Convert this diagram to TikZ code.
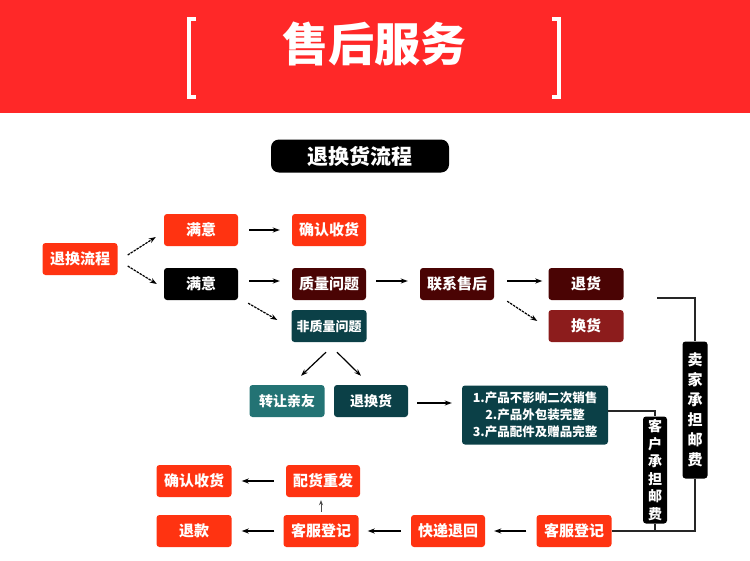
\documentclass[tikz,border=0pt]{standalone}
\usepackage{fontspec}
\usepackage{tikz}
\usetikzlibrary{arrows.meta, positioning, calc}
\newfontfamily\cjk{Noto Sans CJK SC}
\definecolor{headred}{HTML}{FF2828}
\definecolor{nodeorange}{HTML}{FF3311}
\definecolor{nodemaroon}{HTML}{4A0404}
\definecolor{nodebrick}{HTML}{8C1C1C}
\definecolor{nodeteal}{HTML}{0B4047}
\definecolor{nodelteal}{HTML}{237374}

\begin{document}
\begin{tikzpicture}[x=1pt, y=-1pt,
  box/.style={rectangle, rounded corners=3pt, minimum width=74pt,
              minimum height=32pt, inner sep=0pt, text=white,
              font=\cjk\bfseries\fontsize{15}{17}\selectfont},
  vbox/.style={rectangle, rounded corners=3pt, fill=black, text=white,
               minimum width=25pt, inner sep=0pt, align=center},
  flow/.style={-{Stealth[length=7pt, width=5pt]}, line width=1.2pt},
  dflow/.style={flow, dash pattern=on 2.5pt off 1pt},
  link/.style={line width=1.1pt, color=black!85}
]
\useasboundingbox (0,0) rectangle (750,560);

% header
\fill[headred] (0,0) rectangle (750,113);
\draw[white, line width=3.5pt] (196,19) -- (189,19) -- (189,97) -- (196,97);
\draw[white, line width=3.5pt] (552,19) -- (559,19) -- (559,97) -- (552,97);
\node[text=white, font=\cjk\bfseries\fontsize{46}{46}\selectfont] (head) at (374,44) {售后服务};

% title
\node[fill=black, rounded corners=8pt, minimum width=178pt, minimum height=33pt,
      text=white, font=\cjk\bfseries\fontsize{21}{23}\selectfont] (title) at (360,156) {退换货流程};

% upper flow
\node[box, fill=nodeorange, minimum width=75pt] (tuihuan) at (80,259) {退换流程};
\node[box, fill=nodeorange] (my1) at (201,230) {满意};
\node[box, fill=nodeorange] (qr1) at (329,230) {确认收货};
\node[box, fill=black] (bmy) at (201,284) {满意};
\node[box, fill=nodemaroon] (zl) at (329,284) {质量问题};
\node[box, fill=nodemaroon] (lx) at (457,284) {联系售后};
\node[box, fill=nodemaroon, minimum width=75pt] (tuihuo) at (586,284) {退货};
\node[box, fill=nodebrick, minimum width=75pt] (huanhuo) at (586,326) {换货};
\node[box, fill=nodeteal, minimum width=75pt, font=\cjk\bfseries\fontsize{13}{15}\selectfont] (fzl) at (329,326) {非质量问题};
\node[box, fill=nodelteal, minimum width=75pt, font=\cjk\bfseries\fontsize{14}{16}\selectfont] (zr) at (287,401) {转让亲友};
\node[box, fill=nodeteal, font=\cjk\bfseries\fontsize{14}{16}\selectfont] (thh) at (371,401) {退换货};
\node[box, fill=nodeteal, minimum width=146pt, minimum height=59pt, align=center,
      font=\cjk\bfseries\fontsize{12.5}{17}\selectfont] (cond) at (535,415)
      {1.产品不影响二次销售\\2.产品外包装完整\\3.产品配件及赠品完整};

% postage boxes
\node[vbox, minimum height=137pt, font=\cjk\bfseries\fontsize{15}{20}\selectfont] (maijia) at (695,410) {卖\\家\\承\\担\\邮\\费};
\node[vbox, minimum width=24pt, minimum height=107pt, font=\cjk\bfseries\fontsize{14}{17.5}\selectfont] (kehu) at (655,470) {客\\户\\承\\担\\邮\\费};

% lower flow
\node[box, fill=nodeorange, minimum width=75pt] (qr2) at (194,481) {确认收货};
\node[box, fill=nodeorange] (ph) at (323,481) {配货重发};
\node[box, fill=nodeorange, minimum width=75pt] (tk) at (194,531) {退款};
\node[box, fill=nodeorange, minimum width=75pt] (kf1) at (321,531) {客服登记};
\node[box, fill=nodeorange] (kd) at (448,531) {快递退回};
\node[box, fill=nodeorange, minimum width=75pt] (kf2) at (574,531) {客服登记};

% arrows
\draw[dflow] ([xshift=10pt, yshift=4pt]tuihuan.east) -- ([xshift=-8pt, yshift=-7pt]my1.west);
\draw[dflow] ([xshift=10pt, yshift=-7pt]tuihuan.east) -- ([xshift=-7pt]bmy.west);
\draw[flow, shorten <=11pt, shorten >=12pt] (my1.east) -- (qr1.west);
\draw[flow, shorten <=11pt, shorten >=12pt] ([yshift=3pt]bmy.east) -- ([yshift=3pt]zl.west);
\draw[dflow] ([xshift=10pt, yshift=-3pt]bmy.south east) -- ([xshift=-14pt, yshift=6pt]fzl.west);
\draw[flow, shorten <=10pt, shorten >=12pt] ([yshift=3pt]zl.east) -- ([yshift=3pt]lx.west);
\draw[flow, shorten <=13pt, shorten >=6pt] ([yshift=3pt]lx.east) -- ([yshift=3pt]tuihuo.west);
\draw[dflow] ([xshift=13pt, yshift=-1pt]lx.south east) -- ([xshift=-11pt, yshift=5pt]huanhuo.west);
\draw[flow] ([xshift=-3pt, yshift=-10pt]fzl.south) -- ([xshift=14pt, yshift=9pt]zr.north);
\draw[flow] ([xshift=8pt, yshift=-10pt]fzl.south) -- ([xshift=-10pt, yshift=9pt]thh.north);
\draw[flow, shorten <=9pt, shorten >=10pt] ([yshift=-2pt]thh.east) -- ([yshift=-2pt]thh.east -| cond.west);

% postage lines
\coordinate (tuiend) at (657,298);
\draw[link] (tuiend) -| (maijia.north);
\draw[link] (maijia.south) |- (kf2.east);
\draw[link] ([yshift=4pt]cond.east) -| (kehu.north);
\draw[link] (kehu.south) -- (kehu.south |- kf2.east);

% lower arrows
\draw[flow, shorten <=10pt, shorten >=9pt] (kf2.west) -- (kd.east);
\draw[flow, shorten <=10pt, shorten >=9pt] (kd.west) -- (kf1.east);
\draw[flow, shorten <=9pt, shorten >=10pt] (kf1.west) -- (tk.east);
\draw[-{Stealth[length=5pt, width=4pt]}, line width=0.7pt, color=black!70, shorten <=3pt, shorten >=3pt] (kf1.north) -- (kf1.north |- ph.south);
\draw[flow, shorten <=12pt, shorten >=10pt] (ph.west) -- (qr2.east);

\end{tikzpicture}
\end{document}
